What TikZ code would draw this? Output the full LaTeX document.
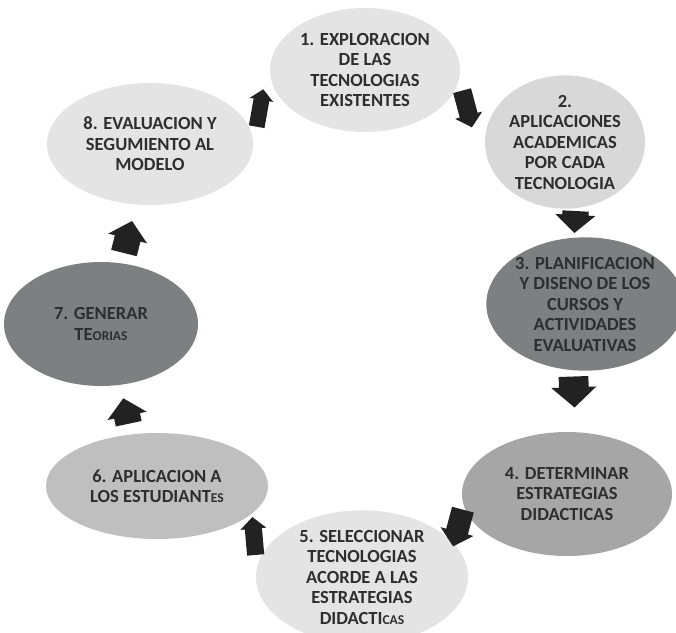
\documentclass[tikz,border=0pt]{standalone}
\usepackage{fontspec}
\setmainfont{Carlito}
\usepackage{tikz}
\usetikzlibrary{shapes.geometric}

\definecolor{gclaro}{HTML}{E4E4E4}
\definecolor{gmedio}{HTML}{D8D8D8}
\definecolor{gplata}{HTML}{BFBFBF}
\definecolor{ggris}{HTML}{A6A6A6}
\definecolor{goscuro}{HTML}{7E7F81}
\definecolor{gtexto}{HTML}{2E2E2E}
\definecolor{gflecha}{HTML}{222222}

\tikzstyle{etapa}  = [ellipse, inner sep=0pt, align=center, text=gtexto,
                      font=\fontsize{18.5}{20.5}\selectfont\bfseries]
\tikzstyle{flecha} = [fill=gflecha]

\newcommand{\chica}[1]{{\fontsize{13.5}{20.5}\selectfont #1}}
% block arrow: x, y, angle, length, head width
\newcommand{\flecha}[5]{%
  \fill [flecha, shift={(#1,#2)}, rotate=#3]
    ({-#4/2}, {-0.33*#5}) -- ({#4/2-0.45*#5}, {-0.33*#5}) -- ({#4/2-0.45*#5}, {-#5/2})
    -- ({#4/2}, 0)
    -- ({#4/2-0.45*#5}, {#5/2}) -- ({#4/2-0.45*#5}, {0.33*#5}) -- ({-#4/2}, {0.33*#5}) -- cycle;}

\begin{document}
\begin{tikzpicture}[x=1pt, y=-1pt]
\useasboundingbox (0,0) rectangle (676,632);

% etapas
\node [etapa, fill=gclaro,  minimum width=190, minimum height=124] at ( 365 ,  70 ) (e1) {1. EXPLORACION\\DE LAS\\TECNOLOGIAS\\EXISTENTES};
\node [etapa, fill=gmedio,  minimum width=160, minimum height=122] at ( 565 , 142 ) (e2) {2.\\APLICACIONES\\ACADEMICAS\\POR CADA\\TECNOLOGIA};
\node [etapa, fill=goscuro, minimum width=194, minimum height=124] at ( 585 , 304 ) (e3) {3. PLANIFICACION\\Y DISENO DE LOS\\CURSOS Y\\ACTIVIDADES\\EVALUATIVAS};
\node [etapa, fill=ggris,   minimum width=210, minimum height=124] at ( 567 , 494 ) (e4) {4. DETERMINAR\\ESTRATEGIAS\\DIDACTICAS};
\node [etapa, fill=gclaro,  minimum width=212, minimum height=130] at ( 362 , 577 ) (e5) {5. SELECCIONAR\\TECNOLOGIAS\\ACORDE A LAS\\ESTRATEGIAS\\DIDACTI\chica{CAS}};
\node [etapa, fill=gplata,  minimum width=222, minimum height=106] at ( 157 , 486 ) (e6) {6. APLICACION A\\LOS ESTUDIANT\chica{ES}};
\node [etapa, fill=goscuro, minimum width=194, minimum height=124] at ( 101 , 324 ) (e7) {7. GENERAR\\TE\chica{ORIAS}};
\node [etapa, fill=gclaro,  minimum width=206, minimum height=122] at ( 150 , 144 ) (e8) {8. EVALUACION Y\\SEGUMIENTO AL\\MODELO};

% flechas
\flecha{260}{108}{80}{38}{24}
\flecha{467}{109}{-75}{38}{28}
\flecha{575}{222}{-93}{22}{40}
\flecha{574}{392}{-88}{31}{45}
\flecha{458}{528}{-105}{38}{34}
\flecha{254}{536}{95}{38}{26}
\flecha{126}{411}{102}{26}{40}
\flecha{128}{237}{76}{33}{40}

\end{tikzpicture}
\end{document}
